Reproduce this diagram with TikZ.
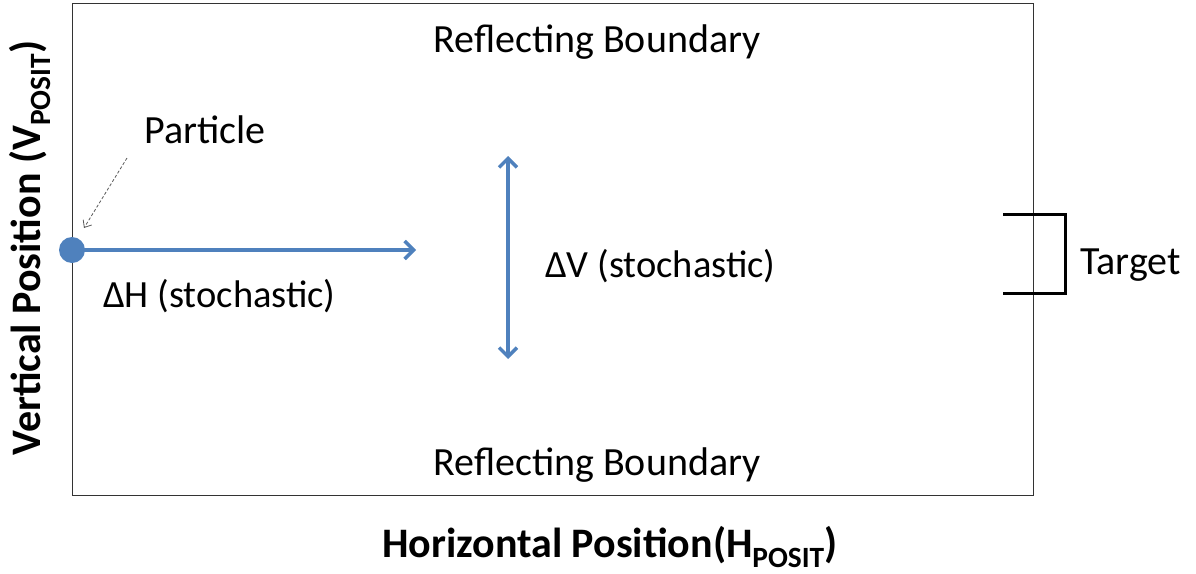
\documentclass[tikz,border=0pt]{standalone}
\usepackage{fontspec}
\setmainfont{Carlito}
\usetikzlibrary{arrows.meta}
\definecolor{cblue}{RGB}{79,129,189}
\tikzset{
  lbl/.style={font=\fontsize{40}{46}\selectfont, inner sep=0pt},
  dlbl/.style={font=\fontsize{38.5}{44}\selectfont, inner sep=0pt},
  axl/.style={font=\fontsize{42}{48}\selectfont\bfseries, inner sep=0pt},
  barrow/.style={draw=cblue, line width=3.5pt, -{Straight Barb[length=9pt,width=18pt,line width=3.5pt]}},
}
\begin{document}
\begin{tikzpicture}[x=1pt,y=-1pt]
\useasboundingbox (0,0) rectangle (1196,573);
\node[draw=black!80, line width=1.3pt, minimum width=961pt, minimum height=492pt, anchor=north west, inner sep=0pt] (box) at (72,3) {};
\node[lbl] (top) at (597,42) {Reflecting Boundary};
\node[lbl] (bot) at (597,465) {Reflecting Boundary};
\node[lbl] (part) at (205,130) {Particle};
\node[circle, fill=cblue, minimum size=26pt, inner sep=0pt] (dot) at (72,250) {};
\coordinate (hend) at (416,250);
\draw[barrow] (dot.center) -- (hend);
\node[dlbl, anchor=west] (dh) at (103,296) {ΔH (stochastic)};
\coordinate (vtop) at (508,156);
\coordinate (vbot) at (508,359);
\draw[draw=cblue, line width=3.5pt, {Straight Barb[length=9pt,width=18pt,line width=3.5pt]}-{Straight Barb[length=9pt,width=18pt,line width=3.5pt]}] (vtop) -- (vbot);
\node[dlbl, anchor=west] (dv) at (545,266) {ΔV (stochastic)};
\coordinate (pa) at (127,158);
\draw[gray!70!black, densely dashed, line width=0.8pt, -{Straight Barb[length=6pt,width=10pt]}] (pa) -- (84,228);
\coordinate (t1) at (1003,214);
\coordinate (t2) at (1065,214);
\coordinate (t3) at (1065,293);
\coordinate (t4) at (1003,293);
\draw[line width=3pt, line join=miter] (t1) -- (t2) -- (t3) -- (t4);
\node[lbl, anchor=west] (tg) at (1080,265) {Target};
\node[axl, rotate=90] (vl) at (30,248) {Vertical Position (V\textsubscript{POSIT})};
\node[axl] (hl) at (610,547) {Horizontal Position(H\textsubscript{POSIT})};
\end{tikzpicture}
\end{document}
